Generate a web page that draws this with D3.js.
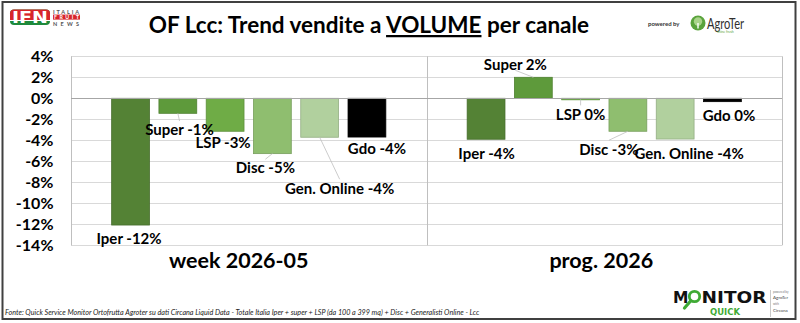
<!DOCTYPE html>
<html><head><meta charset="utf-8">
<script src="https://cdn.jsdelivr.net/npm/d3@7"></script>
<style>
html,body{margin:0;padding:0;background:#fff;}
svg{display:block;font-family:Lato,"Open Sans",sans-serif;}
</style></head><body>
<svg id="chart" width="800" height="323"></svg>
<script>
// ---- data ----
const periods = ["week 2026-05", "prog. 2026"];
const channels = ["Iper", "Super", "LSP", "Disc", "Gen. Online", "Gdo"];
const weekValues = [-12.07, -1.43, -3.14, -5.27, -3.71, -3.69];
const progValues = [-3.9, 2.0, -0.1, -3.14, -3.88, -0.32];
const yTicks = [4, 2, 0, -2, -4, -6, -8, -10, -12, -14];
const channelColors = ["#548235", "#5e9a3b", "#6fac46", "#8fbe6f", "#b1d09e", "#000000"];
const titleText = ["OF Lcc: Trend vendite a ", "VOLUME", " per canale"];
const sourceNote = "Fonte: Quick Service Monitor Ortofrutta Agroter su dati Circana Liquid Data - Totale Italia Iper + super + LSP (da 100 a 399 mq) + Disc + Generalisti Online - Lcc";

// label placement (px offset of label centre from the bar end) and leader flags
const labelOffsets = [
  [[-1.5, 13.5], [1.7, 16.7], [-2, 11.5], [-7, 14.6], [20, 51], [10, 11.3]],
  [[0.5, 14], [-18, -13], [0, 15], [-19, 18], [14, 14.3], [6.5, 14]]
];
const leaderFlags = [
  [false, true, false, true, true, false],
  [false, true, true, true, false, false]
];
// horizontal nudge of the period captions from their band centres
const captionShift = [-10, -3];

const seriesByPeriod = [weekValues, progValues];
const rows = [];
periods.forEach((p, pi) => channels.forEach((c, ci) => rows.push({
  period: p, pi, channel: c, ci, value: seriesByPeriod[pi][ci]
})));

const svg = d3.select("#chart");
svg.append("rect").attr("width", 800).attr("height", 323).attr("fill", "#fff");

// ---- scales ----
const x0 = d3.scaleBand().domain(periods).range([71, 782]).padding(0);
const x1 = d3.scaleBand().domain(channels).range([0, x0.bandwidth()])
  .paddingInner(0.2).paddingOuter(0.86);
const y = d3.scaleLinear().domain([-14, 4]).range([245.3, 56.3]);
const color = d3.scaleOrdinal().domain(channels).range(channelColors);

// ---- gridlines ----
const grid = svg.append("g");
grid.selectAll("line").data(yTicks).join("line")
  .attr("x1", 71).attr("x2", 782)
  .attr("y1", d => Math.round(y(d)) + 0.5).attr("y2", d => Math.round(y(d)) + 0.5)
  .attr("stroke", "#d9d9d9").attr("stroke-width", 1);

// category separators
const seps = [x0.range()[0], x0(periods[1]), x0.range()[1]];
svg.append("g").selectAll("line").data(seps).join("line")
  .attr("x1", d => Math.round(d) + 0.5).attr("x2", d => Math.round(d) + 0.5)
  .attr("y1", y(4)).attr("y2", y(-14))
  .attr("stroke", "#bfbfbf").attr("stroke-width", 1);

// ---- y axis labels ----
const yAxis = d3.axisLeft(y).tickValues(yTicks).tickSize(0).tickPadding(0)
  .tickFormat(d => `${d}%`);
const yg = svg.append("g").attr("transform", "translate(53.5,0)").call(yAxis);
yg.select(".domain").remove();
yg.selectAll("text").attr("font-family", "Lato, sans-serif")
  .attr("font-size", 16).attr("font-weight", 700).attr("fill", "#000");

// ---- bars ----
const barX = d => x0(d.period) + x1(d.channel);
svg.append("g").selectAll("rect").data(rows).join("rect")
  .attr("x", barX)
  .attr("width", x1.bandwidth())
  .attr("y", d => y(Math.max(0, d.value)))
  .attr("height", d => Math.max(1.5, Math.abs(y(d.value) - y(0))))
  .attr("fill", d => color(d.channel))
  .attr("stroke", d => d.channel === "Gdo" ? "#000" : d3.color(color(d.channel)).darker(0.5))
  .attr("stroke-width", 0.8);

// zero line
svg.append("line").attr("x1", 71).attr("x2", 782)
  .attr("y1", Math.round(y(0)) + 0.5).attr("y2", Math.round(y(0)) + 0.5)
  .attr("stroke", "#a6a6a6").attr("stroke-width", 1);

// ---- data labels ----
const pct = v => { const r = Math.round(v); return `${r === 0 ? 0 : r}%`; };
const labelPos = d => {
  const off = labelOffsets[d.pi][d.ci];
  return [barX(d) + x1.bandwidth() / 2 + off[0], y(d.value) + off[1]];
};
svg.append("g").selectAll("line").data(rows.filter(d => leaderFlags[d.pi][d.ci])).join("line")
  .attr("x1", d => barX(d) + x1.bandwidth() / 2)
  .attr("y1", d => y(d.value))
  .attr("x2", d => labelPos(d)[0])
  .attr("y2", d => { const [, ly] = labelPos(d); return ly > y(d.value) ? ly - 9 : ly + 6; })
  .attr("stroke", "#bfbfbf").attr("stroke-width", 0.8);

svg.append("g").selectAll("text").data(rows).join("text")
  .attr("x", d => labelPos(d)[0]).attr("y", d => labelPos(d)[1])
  .attr("dy", "0.35em").attr("text-anchor", "middle")
  .attr("font-size", 15).attr("font-weight", 700).attr("fill", "#000")
  .text(d => `${d.channel} ${pct(d.value)}`);

// ---- category labels ----
svg.append("g").selectAll("text").data(periods).join("text")
  .attr("x", (d, i) => x0(d) + x0.bandwidth() / 2 + captionShift[i]).attr("y", 268)
  .attr("text-anchor", "middle").attr("font-size", 21.5).attr("font-weight", 700)
  .attr("fill", "#000").text(d => d);

// ---- title ----
const title = svg.append("text").attr("x", 369).attr("y", 33)
  .attr("text-anchor", "middle").attr("font-size", 22.5).attr("font-weight", 700).attr("fill", "#000");
titleText.forEach((t, i) => title.append("tspan").text(t)
  .attr("text-decoration", i === 1 ? "underline" : null));

// ---- source note ----
svg.append("text").attr("x", 5).attr("y", 315)
  .attr("font-size", 7.2).attr("font-style", "italic").attr("fill", "#222").text(sourceNote);

// ---- frame ----
svg.append("rect").attr("x", 2.5).attr("y", 2).attr("width", 793).attr("height", 317)
  .attr("fill", "none").attr("stroke", "#404040").attr("stroke-width", 2);

// ---- IFN masthead ----
const ifn = svg.append("g");
ifn.append("rect").attr("x", 10).attr("y", 9.5).attr("width", 40).attr("height", 15.5)
  .attr("rx", 4).attr("fill", "#1e8a3c");
ifn.append("path").attr("d", "M14,9.5 H46 A4,4 0 0 1 50,13.5 V20 H10 V13.5 A4,4 0 0 1 14,9.5 Z")
  .attr("fill", "#d7262b");
ifn.append("rect").attr("x", 10).attr("y", 20).attr("width", 40).attr("height", 1).attr("fill", "#fff");
ifn.append("text").attr("x", 30).attr("y", 23).attr("text-anchor", "middle")
  .attr("font-family", "DejaVu Sans").attr("font-weight", 700).attr("font-size", 15)
  .attr("textLength", 36).attr("lengthAdjust", "spacingAndGlyphs")
  .attr("fill", "#fff").text("IFN");
ifn.append("text").attr("x", 53).attr("y", 14).attr("font-size", 5.5).attr("font-weight", 700)
  .attr("fill", "#555").attr("textLength", 26).text("ITALIA");
ifn.append("rect").attr("x", 53).attr("y", 14.6).attr("width", 27).attr("height", 5).attr("fill", "#d7262b");
ifn.append("text").attr("x", 54).attr("y", 19).attr("font-size", 5.2).attr("font-weight", 700)
  .attr("fill", "#fff").attr("textLength", 25).text("FRUIT");
ifn.append("text").attr("x", 53).attr("y", 25.5).attr("font-size", 5.5).attr("font-weight", 700)
  .attr("fill", "#555").attr("textLength", 26).text("NEWS");

// ---- powered by AgroTer ----
const ag = svg.append("g");
ag.append("text").attr("x", 648).attr("y", 26).attr("font-size", 6).attr("font-weight", 700)
  .attr("fill", "#333").text("powered by");
ag.append("circle").attr("cx", 698).attr("cy", 23).attr("r", 7.5).attr("fill", "#5aa33c");
ag.append("circle").attr("cx", 698).attr("cy", 21.5).attr("r", 4.2).attr("fill", "#a9d48a");
ag.append("rect").attr("x", 697.3).attr("y", 23).attr("width", 1.4).attr("height", 5.5).attr("fill", "#fff");
ag.append("text").attr("x", 707).attr("y", 28.5).attr("font-size", 15).attr("font-weight", 400)
  .attr("fill", "#2f2f2f").attr("textLength", 37).attr("lengthAdjust", "spacingAndGlyphs").text("AgroTer");
ag.append("text").attr("x", 717).attr("y", 33).attr("font-size", 3.5)
  .attr("fill", "#5aa33c").text("shine fresh");

// ---- MONITOR QUICK mark ----
const mq = svg.append("g");
mq.append("text").attr("x", 673).attr("y", 302.5).attr("font-family", "DejaVu Sans")
  .attr("font-weight", 700).attr("font-size", 15.5).attr("fill", "#111").text("M");
mq.append("circle").attr("cx", 694.5).attr("cy", 296.5).attr("r", 5.2)
  .attr("fill", "none").attr("stroke", "#3faa35").attr("stroke-width", 2.8);
mq.append("line").attr("x1", 690.8).attr("y1", 300.8).attr("x2", 684.5).attr("y2", 308)
  .attr("stroke", "#3faa35").attr("stroke-width", 3.2).attr("stroke-linecap", "round");
mq.append("text").attr("x", 701.5).attr("y", 302.5).attr("font-family", "DejaVu Sans")
  .attr("font-weight", 700).attr("font-size", 15.5).attr("fill", "#111")
  .attr("textLength", 65).attr("lengthAdjust", "spacingAndGlyphs").text("NITOR");
mq.append("text").attr("x", 710).attr("y", 315).attr("font-family", "DejaVu Sans")
  .attr("font-weight", 700).attr("font-size", 8.5).attr("fill", "#3faa35")
  .attr("textLength", 30).attr("lengthAdjust", "spacingAndGlyphs").text("QUICK");
mq.append("line").attr("x1", 770.5).attr("x2", 770.5).attr("y1", 290).attr("y2", 317)
  .attr("stroke", "#bbb").attr("stroke-width", 0.8);
[["powered by", 293, "#777"], ["AgroTer", 299, "#444"], ["with", 305, "#777"], ["Circana", 312, "#444"]]
  .forEach(([t, yy, c]) => mq.append("text").attr("x", 773).attr("y", yy)
    .attr("font-size", t === "AgroTer" || t === "Circana" ? 4.5 : 3).attr("fill", c).text(t));
</script>
</body></html>
